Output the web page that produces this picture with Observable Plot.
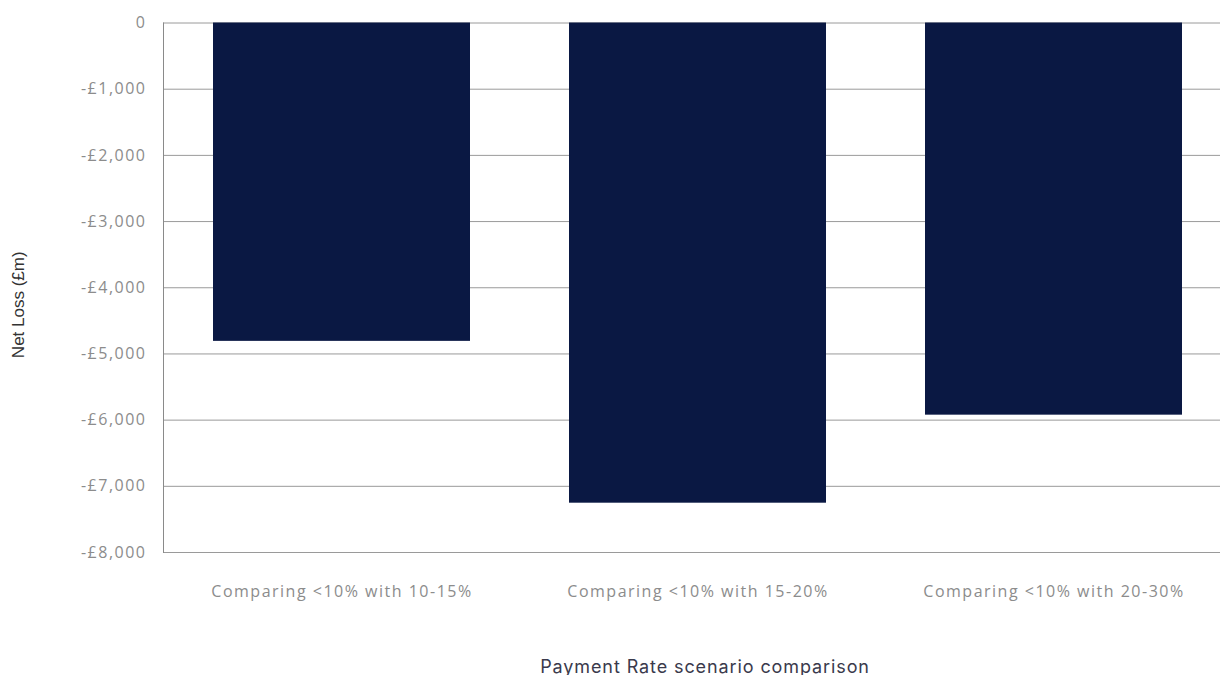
<!DOCTYPE html>
<html>
<head>
<meta charset="utf-8">
<script src="https://cdn.jsdelivr.net/npm/d3@7"></script>
<script src="https://cdn.jsdelivr.net/npm/@observablehq/plot@0.6"></script>
<style>
  html, body { margin: 0; padding: 0; background: #fff; }
  #chart { width: 1220px; height: 675px; overflow: hidden; }
  #chart svg { max-width: none !important; }
  g[aria-label="y-axis tick label"], g[aria-label="x-axis tick label"] { letter-spacing: 1.5px; }
</style>
</head>
<body>
<div id="chart"></div>
<script>
const categories = ["Comparing <10% with 10-15%", "Comparing <10% with 15-20%", "Comparing <10% with 20-30%"];
const netLoss = [-4810, -7255, -5925];
const yTicks = [0, -1000, -2000, -3000, -4000, -5000, -6000, -7000, -8000];
const yLabel = "Net Loss (£m)";
const xLabel = "Payment Rate scenario comparison";

const data = categories.map((c, i) => ({category: c, value: netLoss[i]}));
const fmt = d => d === 0 ? "0" : "-£" + d3.format(",")(-d);

const chart = Plot.plot({
  width: 1232,
  height: 675,
  marginLeft: 163,
  marginRight: 0,
  marginTop: 22.5,
  marginBottom: 123,
  style: {fontFamily: "Open Sans, sans-serif", fontSize: "16px", background: "#fff", maxWidth: "none"},
  x: {domain: categories, paddingInner: 0.278, paddingOuter: 0.139},
  y: {domain: [-8000, 0]},
  marks: [
    Plot.gridY(yTicks, {stroke: "#9a9a9a", strokeOpacity: 1, strokeWidth: 1}),
    Plot.barY(data, {x: "category", y: "value", fill: "#0a1843"}),
    Plot.frame({anchor: "left", stroke: "#8a8a8a"}),
    Plot.axisY(yTicks, {tickFormat: fmt, tickSize: 0, tickPadding: 17, label: null, fill: "#8c8c8c", fontSize: 16}),
    Plot.axisX({tickSize: 0, tickPadding: 33, label: null, fill: "#8c8c8c", fontSize: 16}),
    Plot.text([yLabel], {frameAnchor: "left", text: d => d, rotate: -90, textAnchor: "middle", dx: -145, dy: 17, fill: "#333", fontSize: 17, fontFamily: "Liberation Sans, Arial, sans-serif"}),
    Plot.text([xLabel], {frameAnchor: "bottom", text: d => d, dy: 120, dx: 7, fill: "#3a3a4c", fontSize: 18, fontFamily: "Inter, sans-serif"})
  ]
});
d3.select(chart).selectAll("text").filter(function() { return this.textContent === xLabel; }).style("letter-spacing", "0.9px");
document.getElementById("chart").appendChild(chart);
</script>
</body>
</html>
